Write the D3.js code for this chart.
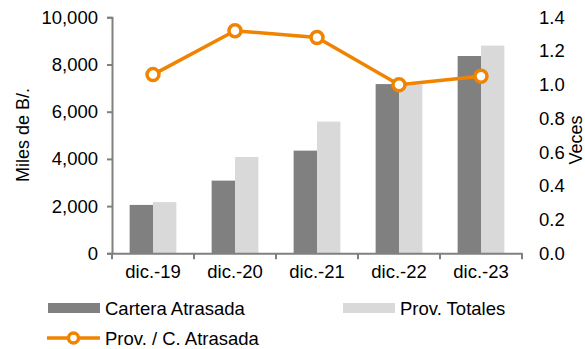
<!DOCTYPE html>
<html><head><meta charset="utf-8">
<script src="https://cdn.jsdelivr.net/npm/d3@7"></script>
<style>body{margin:0;background:#fff}text{font-family:"Liberation Sans",Arial,sans-serif;fill:#000}</style>
</head><body><svg id="c" width="585" height="349"></svg>
<script>
const categories = ["dic.-19","dic.-20","dic.-21","dic.-22","dic.-23"];
const carteraAtrasada = [2050, 3080, 4350, 7170, 8360];
const provTotales = [2170, 4080, 5580, 7160, 8800];
const ratio = [1.06, 1.32, 1.28, 1.00, 1.05];
const leftTicks = [0,2000,4000,6000,8000,10000];
const rightTicks = [0,0.2,0.4,0.6,0.8,1.0,1.2,1.4];

const svg = d3.select("#c");
const m = {l:112, r:522, t:17.3, b:253.3};
const fs = "18.5px";
const x = d3.scaleBand().domain(categories).range([m.l, m.r]).paddingInner(0.43).paddingOuter(0.215);
const x0 = d3.scaleBand().domain(categories).range([m.l, m.r]);
const yL = d3.scaleLinear().domain([0,10000]).range([m.b, m.t]);
const yR = d3.scaleLinear().domain([0,1.4]).range([m.b, m.t]);
const dark = "#808080", light = "#d9d9d9", orange = "#f08300";

// bars
const g = svg.append("g");
const bw = x.bandwidth()/2;
g.selectAll(".a").data(categories).join("rect")
  .attr("x", d => x(d)).attr("width", bw)
  .attr("y", (d,i) => yL(carteraAtrasada[i])).attr("height", (d,i) => m.b - yL(carteraAtrasada[i]))
  .attr("fill", dark);
g.selectAll(".b").data(categories).join("rect")
  .attr("x", d => x(d) + bw).attr("width", bw)
  .attr("y", (d,i) => yL(provTotales[i])).attr("height", (d,i) => m.b - yL(provTotales[i]))
  .attr("fill", light);

// left axis
const ax = svg.append("g").attr("transform", `translate(${m.l},0)`)
  .call(d3.axisLeft(yL).tickValues(leftTicks).tickFormat(d3.format(",")).tickSize(5).tickPadding(9));
ax.select(".domain").attr("stroke", dark).attr("stroke-width", 2);
ax.selectAll(".tick line").attr("stroke", dark).attr("stroke-width", 2);
ax.selectAll("text").style("font-size", fs).attr("fill","#000");

// right axis (no line)
const ar = svg.append("g").attr("transform", `translate(${m.r},0)`)
  .call(d3.axisRight(yR).tickValues(rightTicks).tickFormat(d3.format(".1f")).tickSize(0).tickPadding(17));
ar.select(".domain").remove();
ar.selectAll("text").style("font-size", fs).attr("fill","#000");

// x axis
const axb = svg.append("g").attr("transform", `translate(0,${m.b})`)
  .call(d3.axisBottom(x0).tickSize(0).tickPadding(12));
axb.select(".domain").attr("stroke", dark).attr("stroke-width", 2);
axb.selectAll("text").style("font-size", fs).attr("fill","#000");
const bounds = categories.map(c => x0(c)).concat([m.r]);
svg.append("g").selectAll("line").data(bounds).join("line")
  .attr("x1", d => d).attr("x2", d => d).attr("y1", m.b).attr("y2", m.b + 6)
  .attr("stroke", dark).attr("stroke-width", 2);

// line
const cx = d => x0(d) + x0.bandwidth()/2;
const line = d3.line().x((d,i) => cx(categories[i])).y(d => yR(d));
svg.append("path").datum(ratio).attr("d", line).attr("fill","none")
  .attr("stroke", orange).attr("stroke-width", 3.5);
svg.selectAll(".pt").data(ratio).join("circle")
  .attr("cx", (d,i) => cx(categories[i])).attr("cy", d => yR(d)).attr("r", 6)
  .attr("fill","#fff").attr("stroke", orange).attr("stroke-width", 3.5);

// axis titles
svg.append("text").attr("transform", "translate(29,135) rotate(-90)")
  .attr("text-anchor","middle").style("font-size","18px").text("Miles de B/.");
svg.append("text").attr("transform", "translate(582,140) rotate(-90)")
  .attr("text-anchor","middle").style("font-size","18px").text("Veces");

// legend
const lg = svg.append("g");
lg.append("rect").attr("x",48).attr("y",303).attr("width",52).attr("height",10).attr("fill",dark);
lg.append("text").attr("x",105).attr("y",315).style("font-size",fs).text("Cartera Atrasada");
lg.append("rect").attr("x",343).attr("y",303).attr("width",52).attr("height",10).attr("fill",light);
lg.append("text").attr("x",400).attr("y",315).style("font-size",fs).text("Prov. Totales");
lg.append("line").attr("x1",47).attr("x2",100).attr("y1",338).attr("y2",338).attr("stroke",orange).attr("stroke-width",3.5);
lg.append("circle").attr("cx",73.5).attr("cy",338).attr("r",5).attr("fill","#fff").attr("stroke",orange).attr("stroke-width",3.5);
lg.append("text").attr("x",105).attr("y",345).style("font-size",fs).text("Prov. / C. Atrasada");
</script></body></html>
